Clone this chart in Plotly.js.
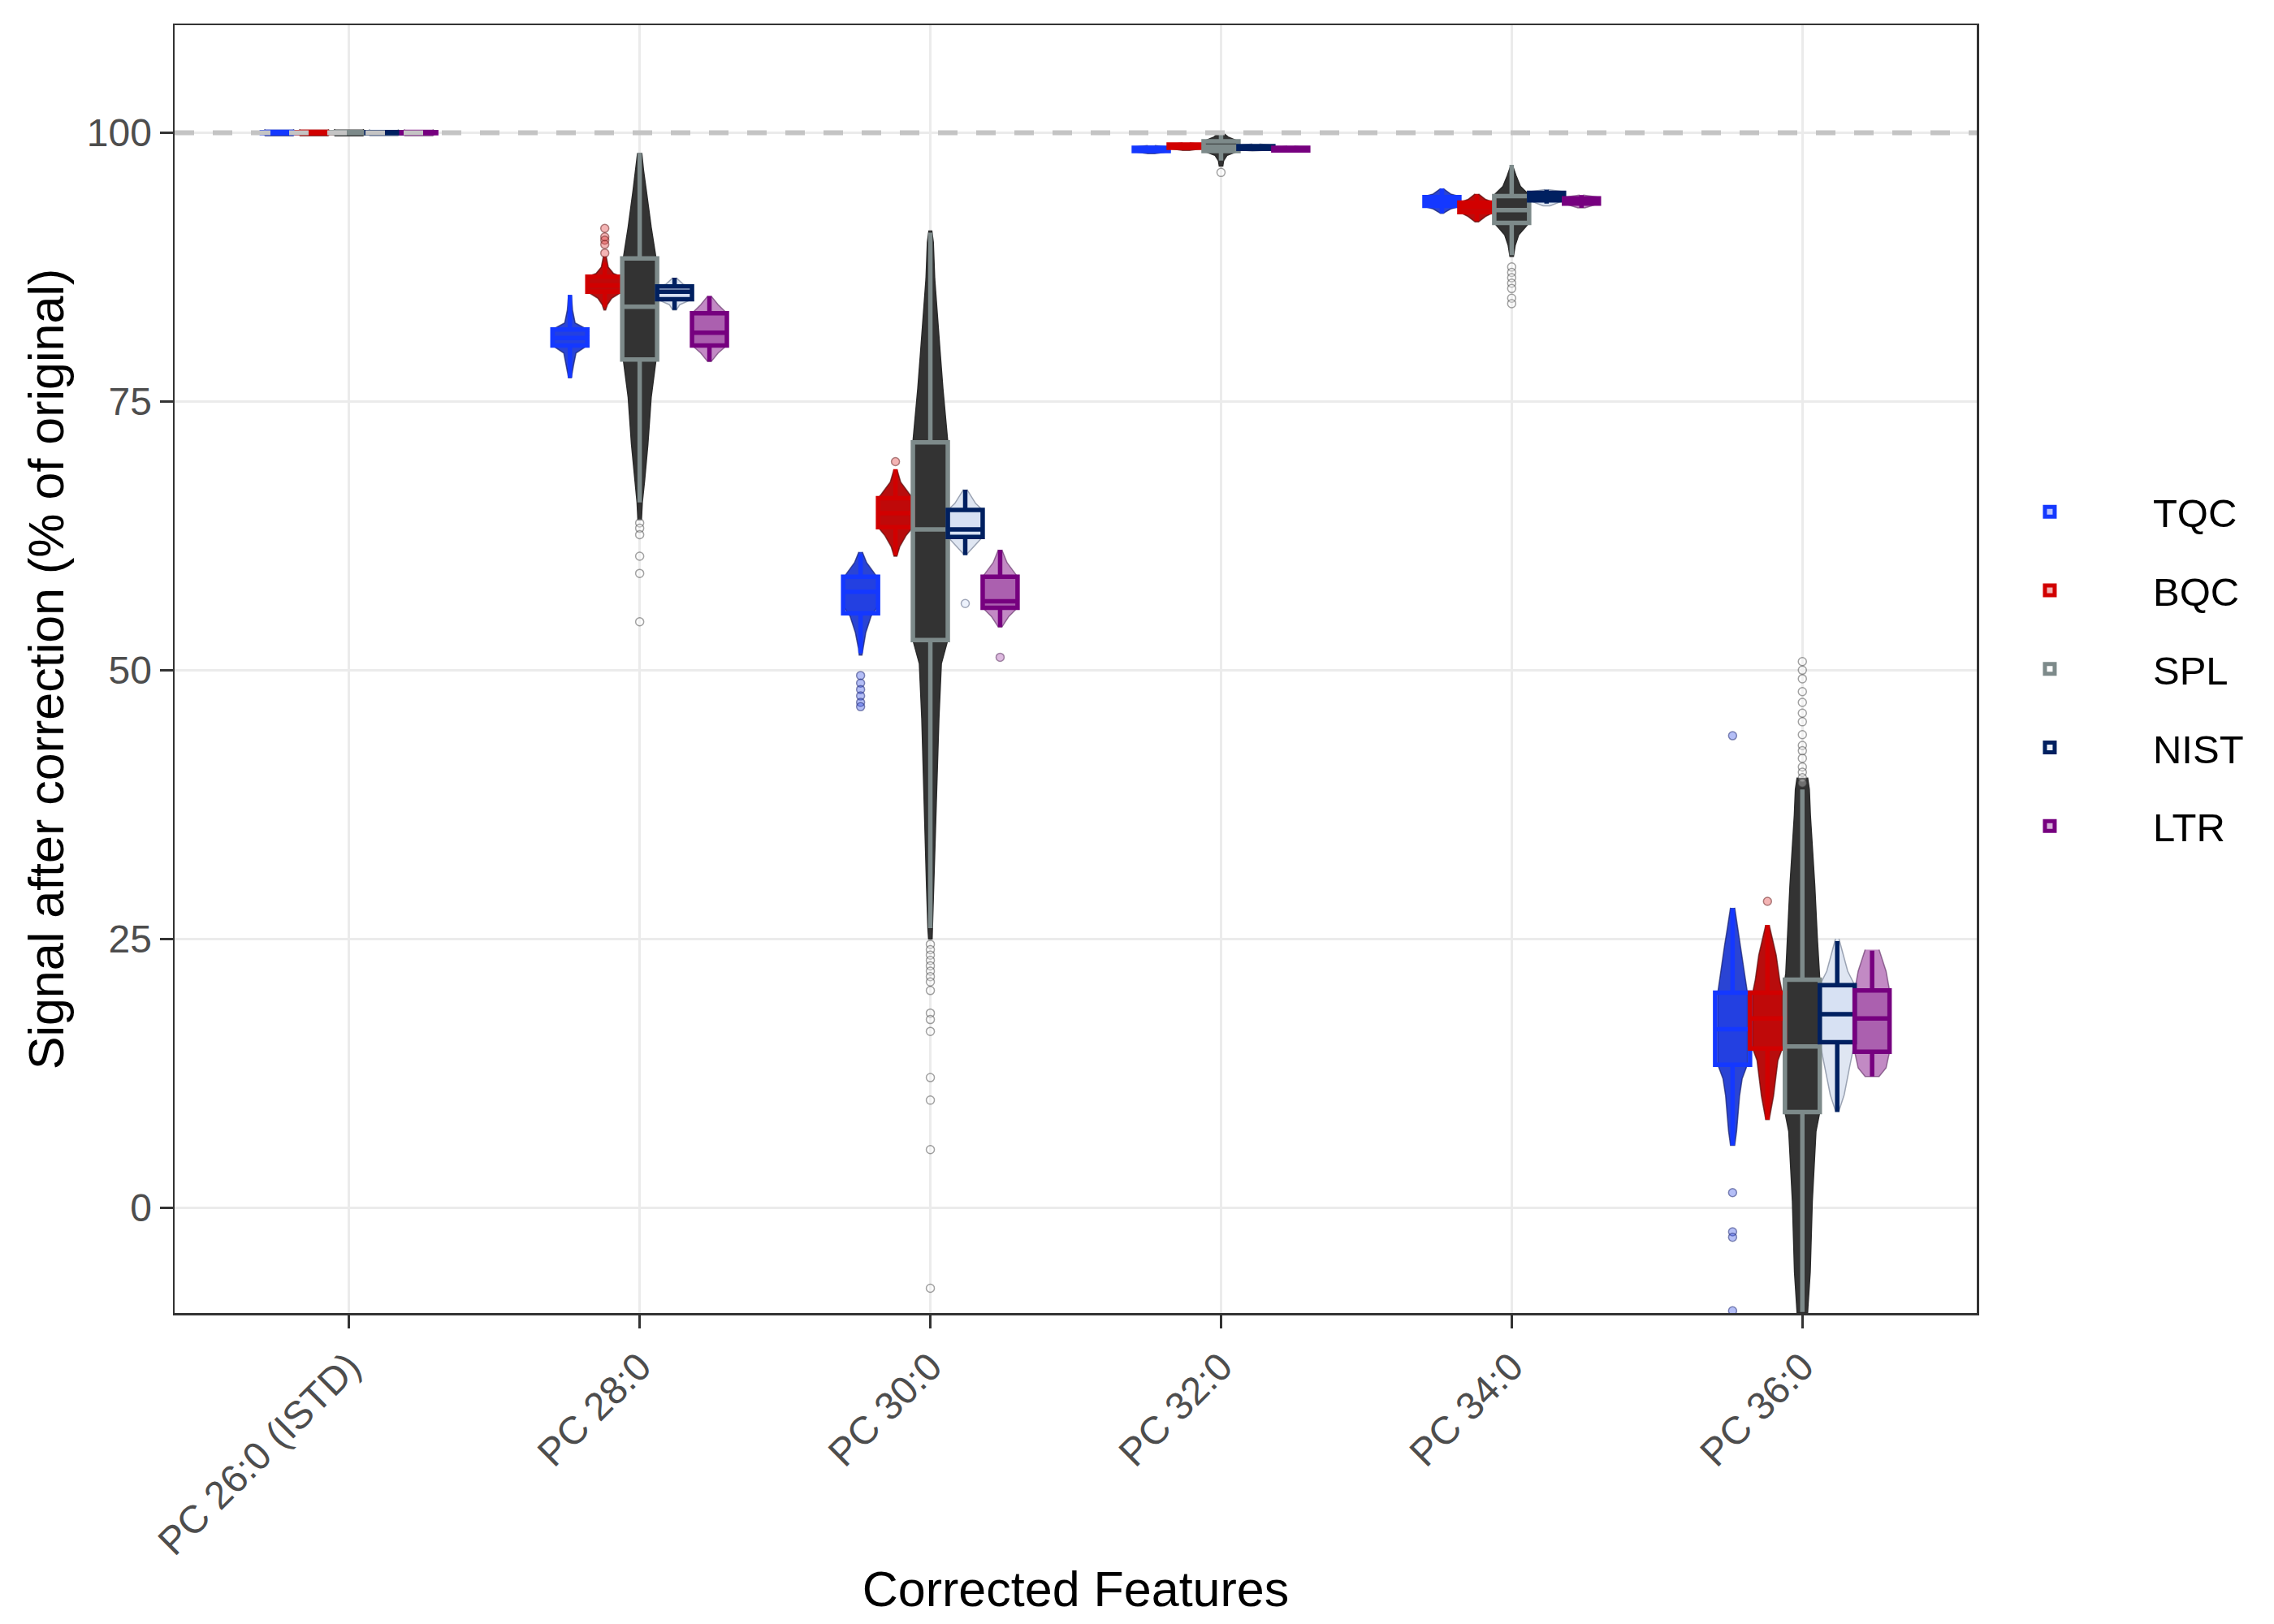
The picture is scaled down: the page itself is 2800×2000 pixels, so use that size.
<!DOCTYPE html>
<html><head><meta charset="utf-8">
<script src="https://cdn.plot.ly/plotly-3.0.1.min.js"></script>
<style>html,body{margin:0;padding:0;background:#fff}</style>
</head><body><div id="chart" style="width:2800px;height:2000px"></div>
<script>
// ---------- DATA ----------
const categories = ["PC 26:0 (ISTD)", "PC 28:0", "PC 30:0", "PC 32:0", "PC 34:0", "PC 36:0"];
const groups = ["TQC", "BQC", "SPL", "NIST", "LTR"];
const refLine = 100;
const yTicks = [0, 25, 50, 75, 100];

// box statistics per category: [lower whisker, Q1, median, Q3, upper whisker]
const tqcStats = [[99.9,99.95,100,100.05,100.1],[77.2,80.2,80.9,81.7,84.9],[51.6,55.3,57.3,58.7,60.8],[98.1,98.3,98.45,98.6,98.8],[92.5,93.2,93.6,94.0,94.8],[5.8,13.3,16.6,20.0,27.8]];
const bqcStats = [[99.9,99.95,100,100.05,100.1],[83.8,85.2,85.8,86.6,87.9],[60.7,63.3,64.6,66.0,68.7],[98.4,98.6,98.75,98.9,99.0],[91.8,92.6,93.1,93.5,94.2],[8.2,14.8,17.6,20.0,26.3]];
const splStats = [[99.9,99.95,100,100.05,100.1],[65.6,78.9,83.8,88.3,98.1],[26.0,52.8,63.1,71.2,90.7],[97.4,98.3,98.7,99.2,99.8],[88.6,91.6,92.8,94.1,97.0],[-9.7,8.9,15.0,21.2,38.9]];
const nistStats = [[99.9,99.95,100,100.05,100.1],[83.5,84.5,85.2,85.7,86.5],[60.7,62.4,63.1,64.9,66.8],[98.4,98.5,98.6,98.75,98.9],[93.4,93.7,94.0,94.4,94.7],[8.9,15.4,18.0,20.7,24.8]];
const ltrStats = [[99.9,99.95,100,100.05,100.1],[78.7,80.2,81.4,83.2,84.8],[54.0,55.8,56.4,58.7,61.2],[98.2,98.35,98.45,98.6,98.7],[93.0,93.4,93.6,93.9,94.2],[12.2,14.5,17.6,20.2,23.9]];

// outlying points per category
const tqcOutliers = [[],[],[49.5,48.8,48.2,47.6,47.0,46.6],[],[],[43.9,1.4,-2.25,-2.75,-9.6]];
const bqcOutliers = [[],[91.1,90.3,90.0,89.6,88.8],[69.4],[],[],[28.5]];
const splOutliers = [[],[63.7,63.2,62.6,60.6,59.0,54.5],[24.5,24.0,23.5,23.0,22.5,22.0,21.5,21.0,20.2,18.1,17.5,16.4,12.1,10.0,5.4,-7.5],[96.3],[87.5,87.0,86.5,86.0,85.5,84.6,84.1],[50.8,50.0,49.2,48.0,47.0,46.0,45.2,44.0,43.0,42.5,41.8,41.0,40.5,40.0,39.5]];
const nistOutliers = [[],[],[56.2],[],[],[]];
const ltrOutliers = [[],[],[51.2],[],[],[]];

// beeswarm outline per category: [value, relative half-width]
const tqcSwarm = [
  [[100.3,0.8],[100,1.0],[99.7,0.8]],
  [[84.9,0.08],[83.5,0.15],[82.3,0.3],[81.7,1.0],[80.2,1.0],[79.5,0.35],[78.3,0.2],[77.2,0.08]],
  [[61,0.1],[60,0.35],[59,0.8],[58.5,1.0],[56,1.0],[55,0.6],[53.5,0.3],[52,0.12],[51.4,0.08]],
  [[98.8,0.2],[98.65,1.05],[98.25,1.05],[98.05,0.2]],
  [[94.8,0.08],[94.3,0.5],[94.05,1.05],[93.15,1.05],[92.9,0.5],[92.5,0.08]],
  [[27.9,0.12],[26,0.3],[24.4,0.46],[21.8,0.7],[20,0.85],[13.3,0.85],[12,0.55],[10.4,0.4],[7.1,0.23],[5.8,0.12]]
];
const bqcSwarm = [
  [[100.3,0.8],[100,1.0],[99.7,0.8]],
  [[88.5,0.08],[87.5,0.2],[86.9,0.5],[86.6,1.0],[85.2,1.0],[84.6,0.4],[84.0,0.15],[83.5,0.05]],
  [[68.6,0.1],[67.5,0.3],[66.4,0.8],[66.0,1.0],[63.3,1.0],[62.5,0.6],[61.5,0.25],[60.6,0.08]],
  [[99.05,0.2],[98.9,1.05],[98.55,1.05],[98.35,0.2]],
  [[94.3,0.1],[93.8,0.5],[93.5,1.0],[92.6,1.0],[92.2,0.5],[91.7,0.1]],
  [[26.3,0.1],[25,0.3],[23.5,0.5],[21.2,0.7],[20,0.85],[14.8,0.85],[13.7,0.6],[10.4,0.35],[8.2,0.1]]
];
const splSwarm = [
  [[100.3,0.8],[100,1.0],[99.7,0.8]],
  [[98.1,0.12],[96.5,0.22],[94.6,0.38],[91.2,0.66],[88.3,0.94],[78.9,0.94],[75.4,0.66],[71,0.47],[67.6,0.28],[65.6,0.15],[64,0.1]],
  [[90.9,0.08],[89.8,0.17],[86.4,0.25],[83,0.39],[79.6,0.56],[76.2,0.72],[72.8,0.9],[71.2,1.0],[52.8,1.0],[50.6,0.63],[45.5,0.49],[40.4,0.39],[35.2,0.3],[30,0.22],[26,0.14],[25,0.1]],
  [[100.0,0.1],[99.6,0.4],[99.2,1.0],[98.3,1.0],[97.9,0.35],[97.4,0.15],[96.9,0.1]],
  [[96.8,0.08],[96,0.25],[95,0.5],[94.2,1.0],[91.6,1.0],[90.5,0.4],[89.5,0.2],[88.5,0.1]],
  [[40,0.3],[38.9,0.4],[36.5,0.46],[30,0.71],[25,0.86],[21.8,0.95],[21.2,1.0],[8.9,1.0],[7.1,0.78],[0.6,0.57],[-6,0.45],[-9.2,0.32],[-9.8,0.3]]
];
const nistSwarm = [
  [[100.3,0.8],[100,1.0],[99.7,0.8]],
  [[86.5,0.1],[85.9,0.5],[85.7,1.0],[84.5,1.0],[84.0,0.3],[83.5,0.1]],
  [[66.8,0.1],[65.5,0.6],[64.9,1.0],[62.4,1.0],[61.5,0.5],[60.8,0.1]],
  [[98.95,0.2],[98.8,1.0],[98.4,1.0],[98.3,0.2]],
  [[94.7,0.1],[94.5,1.0],[93.7,1.0],[93.2,0.2]],
  [[25,0.1],[22,0.6],[20.7,1.0],[15.4,1.0],[13,0.7],[10.5,0.4],[9,0.1]]
];
const ltrSwarm = [
  [[100.3,0.8],[100,1.0],[99.7,0.8]],
  [[84.8,0.1],[84,0.5],[83.2,1.0],[80.2,1.0],[79.5,0.5],[78.7,0.1]],
  [[61.2,0.1],[60.0,0.4],[58.7,1.0],[55.8,1.0],[55.0,0.5],[54.0,0.1]],
  [[98.75,0.2],[98.6,1.0],[98.3,1.0],[98.2,0.2]],
  [[94.2,0.1],[94.0,1.0],[93.4,1.0],[93.0,0.2]],
  [[24,0.4],[22,0.8],[20.2,1.0],[14.5,1.0],[13,0.8],[12.2,0.4]]
];

// ---------- STYLE ----------
const statsBy = {TQC:tqcStats, BQC:bqcStats, SPL:splStats, NIST:nistStats, LTR:ltrStats};
const outBy = {TQC:tqcOutliers, BQC:bqcOutliers, SPL:splOutliers, NIST:nistOutliers, LTR:ltrOutliers};
const swarmBy = {TQC:tqcSwarm, BQC:bqcSwarm, SPL:splSwarm, NIST:nistSwarm, LTR:ltrSwarm};
const style = {
  TQC: {line:'#1438ff', fill:'rgba(20,56,255,0.3)', swarm:'#2a44d4', swarmLine:'rgba(20,30,110,0.7)', pt:'rgba(40,70,230,0.35)', ptLine:'rgba(40,50,120,0.55)'},
  BQC: {line:'#d10000', fill:'rgba(209,0,0,0.3)', swarm:'#b80d0d', swarmLine:'rgba(90,10,10,0.7)', pt:'rgba(220,40,40,0.35)', ptLine:'rgba(110,40,40,0.55)'},
  SPL: {line:'#7d8a8a', fill:'rgba(255,255,255,0)', swarm:'#333333', swarmLine:'#2a2a2a', pt:'rgba(255,255,255,0.3)', ptLine:'rgba(70,70,70,0.5)'},
  NIST:{line:'#002060', fill:'rgba(200,215,245,0.35)', swarm:'#dfe6f2', swarmLine:'rgba(120,130,150,0.7)', pt:'rgba(220,230,250,0.5)', ptLine:'rgba(90,100,130,0.55)'},
  LTR: {line:'#76007f', fill:'rgba(118,0,127,0.3)', swarm:'#c28ac4', swarmLine:'rgba(90,40,95,0.6)', pt:'rgba(180,100,185,0.45)', ptLine:'rgba(90,50,95,0.55)'}
};
const offsets = [-0.24, -0.12, 0, 0.12, 0.24];
const boxWidth = 0.12;
const halfW = boxWidth / 2;
const xRange = [-0.6, 5.6];
const yRange = [-9.8, 110];

const swarmTraces = [], outTraces = [], boxTraces = [];
groups.forEach((g, gi) => {
  const st = style[g];
  const xs = [], ys = [];
  swarmBy[g].forEach((prof, ci) => {
    const cx = ci + offsets[gi];
    prof.forEach(p => { xs.push(cx + p[1] * halfW); ys.push(p[0]); });
    for (let k = prof.length - 1; k >= 0; k--) { xs.push(cx - prof[k][1] * halfW); ys.push(prof[k][0]); }
    xs.push(null); ys.push(null);
  });
  swarmTraces.push({type:'scatter', mode:'lines', x:xs, y:ys, fill:'toself', fillcolor:st.swarm,
    line:{color:st.swarmLine, width:1.5}, legendgroup:g, showlegend:false, hoverinfo:'skip'});
  const ox = [], oy = [];
  outBy[g].forEach((vals, ci) => vals.forEach(v => { ox.push(ci + offsets[gi]); oy.push(v); }));
  outTraces.push({type:'scatter', mode:'markers', x:ox, y:oy, legendgroup:g, showlegend:false,
    marker:{size:10, color:st.pt, line:{color:st.ptLine, width:1.5}}, hoverinfo:'y'});
  const S = statsBy[g];
  boxTraces.push({type:'box', name:g, legendgroup:g, showlegend:true, xaxis:'x2', yaxis:'y2',
    x: categories.map((c, ci) => ci + offsets[gi]),
    lowerfence:S.map(s=>s[0]), q1:S.map(s=>s[1]), median:S.map(s=>s[2]), q3:S.map(s=>s[3]), upperfence:S.map(s=>s[4]),
    width:boxWidth, whiskerwidth:0, boxpoints:false,
    line:{color:st.line, width:5.5}, fillcolor:st.fill});
});

const axisCommon = {
  ticks:'outside', ticklen:16, tickwidth:3.5, tickcolor:'#333333',
  tickfont:{size:48, color:'#4d4d4d', family:'Liberation Sans, Arial, sans-serif'},
  showgrid:true, gridcolor:'#ebebeb', gridwidth:2.5, zeroline:false,
  showline:true, mirror:true, linecolor:'#333333', linewidth:2.5
};

const layout = {
  width:2800, height:2000,
  margin:{l:215, r:366, t:31, b:383},
  paper_bgcolor:'#ffffff', plot_bgcolor:'#ffffff',
  font:{family:'Liberation Sans, Arial, sans-serif', color:'#000'},
  boxmode:'overlay',
  showlegend:true,
  legend:{x:0.9833, xanchor:'left', y:0.5, yanchor:'middle', font:{size:49, color:'#000'},
    tracegroupgap:30, itemwidth:244, bgcolor:'rgba(0,0,0,0)', traceorder:'grouped'},
  xaxis:Object.assign({}, axisCommon, {
    range:xRange, tickmode:'array', tickvals:categories.map((c,i)=>i), ticktext:categories, tickangle:-45,
    title:{text:'Corrected Features', font:{size:61, color:'#000'}, standoff:11}
  }),
  yaxis:Object.assign({}, axisCommon, {
    range:yRange, tickmode:'array', tickvals:yTicks, ticktext:yTicks.map(String),
    title:{text:'Signal after correction (% of original)', font:{size:61, color:'#000'}, standoff:9}
  }),
  xaxis2:{overlaying:'x', range:xRange, visible:false, showgrid:false, zeroline:false, anchor:'y2'},
  yaxis2:{overlaying:'y', range:yRange, visible:false, showgrid:false, zeroline:false, anchor:'x2'},
  shapes:[{type:'line', xref:'paper', x0:0, x1:1, yref:'y', y0:refLine, y1:refLine, layer:'above',
    line:{color:'#c4c4c4', width:6, dash:'24px,23px'}}]
};

Plotly.newPlot('chart', swarmTraces.concat(outTraces, boxTraces), layout, {displayModeBar:false, staticPlot:true});
</script></body></html>
